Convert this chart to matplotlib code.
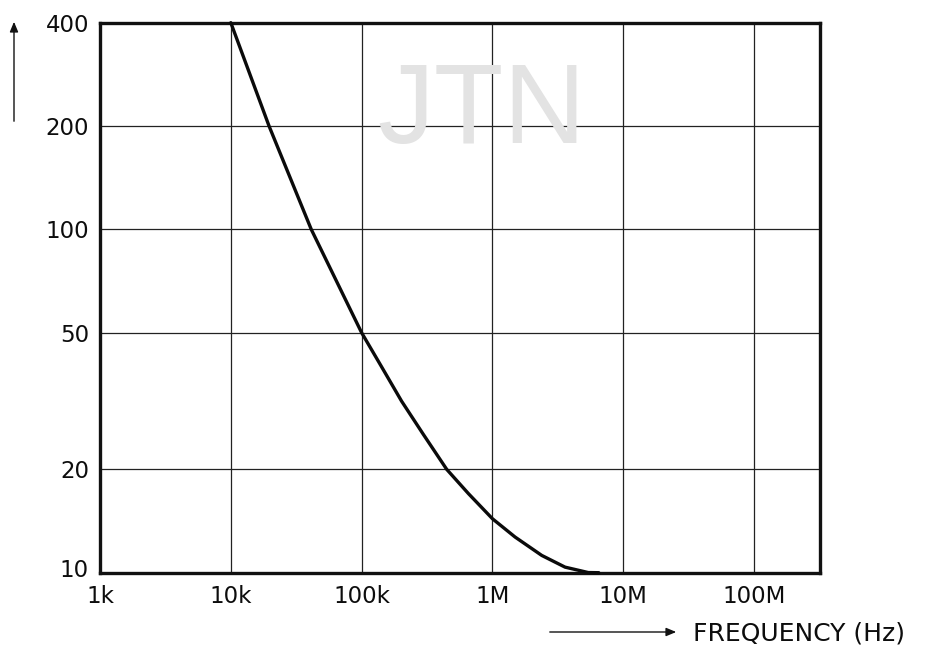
import matplotlib
matplotlib.use("Agg")
import matplotlib.pyplot as plt
import matplotlib.transforms as mtrans
from matplotlib.ticker import FixedLocator, FixedFormatter, NullLocator

plt.rcParams['font.family'] = ['DejaVu Sans']

# Data
freq_hz = [1.0e4, 1.96e4, 4.12e4, 1.0e5, 1.42e5, 2.02e5, 2.96e5, 4.47e5, 6.55e5,
           1.0e6, 1.49e6, 2.38e6, 3.59e6, 5.4e6, 6.5e6]
values = [400, 200, 100, 50, 39.8, 31.6, 25.3, 20, 17.0,
          14.36, 12.7, 11.23, 10.38, 10.01, 10.0]

x_ticks = [1e3, 1e4, 1e5, 1e6, 1e7, 1e8]
x_tick_labels = ["1k", "10k", "100k", "1M", "10M", "100M"]
y_ticks = [10, 20, 50, 100, 200, 400]
y_tick_labels = ["10", "20", "50", "100", "200", "400"]
x_label = "FREQUENCY (Hz)"

fig = plt.figure(figsize=(9.25, 6.47), dpi=100)
ax = fig.add_axes([100 / 925, 1 - 572.7 / 647, (819.5 - 100) / 925, (572.7 - 22.7) / 647])
ax.set_xscale("log")
ax.set_yscale("log")
ax.set_xlim(1e3, 10 ** 8.5)
ax.set_ylim(10, 400)

ax.xaxis.set_major_locator(FixedLocator(x_ticks))
ax.xaxis.set_major_formatter(FixedFormatter(x_tick_labels))
ax.xaxis.set_minor_locator(NullLocator())
ax.yaxis.set_major_locator(FixedLocator(y_ticks))
ax.yaxis.set_major_formatter(FixedFormatter(y_tick_labels))
ax.yaxis.set_minor_locator(NullLocator())
ax.tick_params(axis="both", which="both", length=0, labelsize=16.5, colors="#0d0d0d")
ax.tick_params(axis="x", pad=9)
ax.tick_params(axis="y", pad=8)

# lift the lowest y label slightly, as in the reference
first = ax.yaxis.get_major_ticks()[0]
first.label1.set_transform(first.label1.get_transform()
                           + mtrans.ScaledTranslation(0, 5 / 100, fig.dpi_scale_trans))

ax.grid(True, which="major", color="#222222", linewidth=0.9)
ax.set_axisbelow(True)
for s in ax.spines.values():
    s.set_linewidth(2.4)
    s.set_color("#111111")

ax.plot(freq_hz, values, color="#0a0a0a", linewidth=2.4, solid_capstyle="round",
        solid_joinstyle="round", zorder=3, clip_on=False)

# Watermark
fig.text(482 / 925, 1 - 143 / 647, "JTN", fontsize=82, color="#e3e3e3",
         ha="center", va="baseline", family="Liberation Sans", zorder=0)

# x-axis label with arrow
fig.text(693 / 925, 1 - 633 / 647, x_label, fontsize=18, color="#0d0d0d",
         ha="left", va="center")
fig.add_artist(matplotlib.patches.FancyArrowPatch(
    (547 / 925, 1 - 632 / 647), (679 / 925, 1 - 632 / 647),
    transform=fig.transFigure, arrowstyle="-|>,head_length=6,head_width=2.5",
    color="#111111", linewidth=1.0, mutation_scale=1))

# y-axis arrow
fig.add_artist(matplotlib.patches.FancyArrowPatch(
    (14 / 925, 1 - 124 / 647), (14 / 925, 1 - 19 / 647),
    transform=fig.transFigure, arrowstyle="-|>,head_length=6,head_width=2.5",
    color="#111111", linewidth=1.0, mutation_scale=1))

fig.savefig("out.png", dpi=100, facecolor="white")
